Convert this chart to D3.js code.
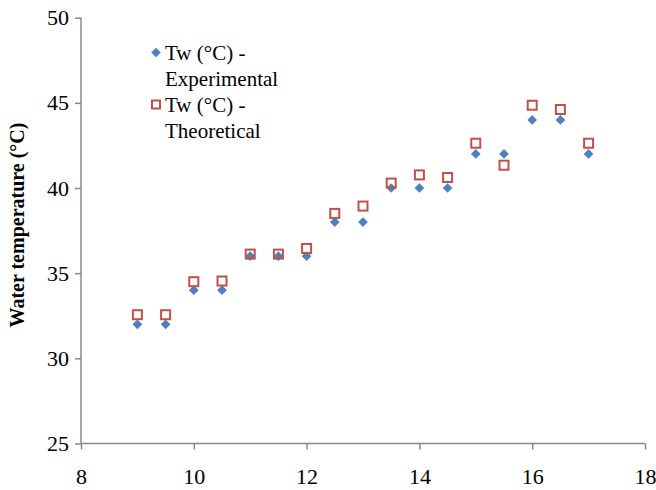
<!DOCTYPE html>
<html>
<head>
<meta charset="utf-8">
<script src="https://cdn.jsdelivr.net/npm/d3@7"></script>
<style>
  body { margin: 0; background: #fff; }
</style>
</head>
<body>
<svg id="chart" width="656" height="490"></svg>
<script>
// flow values (x) and water temperatures
const xValues = [9, 9.5, 10, 10.5, 11, 11.5, 12, 12.5, 13, 13.5, 14, 14.5, 15, 15.5, 16, 16.5, 17];
const experimental = [32, 32, 34, 34, 36, 36, 36, 38, 38, 40, 40, 40, 42, 42, 44, 44, 42];
const theoretical = [32.56, 32.56, 34.5, 34.54, 36.12, 36.12, 36.45, 38.51, 38.94, 40.29, 40.77, 40.62, 42.63, 41.34, 44.86, 44.61, 42.63];
const xTicks = [8, 10, 12, 14, 16, 18];
const yTicks = [25, 30, 35, 40, 45, 50];
const legendLabels = [["Tw (°C) -", "Experimental"], ["Tw (°C) -", "Theoretical"]];

const svg = d3.select("#chart");
const axisColor = "#888888";
const serif = "'Liberation Serif'";

const x = d3.scaleLinear().domain([8, 18]).range([81, 645]);
const y = d3.scaleLinear().domain([25, 50]).range([443.5, 17.7]);

// y axis
const yAxis = svg.append("g")
    .attr("transform", "translate(" + x(8) + ",0)")
    .call(d3.axisLeft(y).tickValues(yTicks).tickSize(6).tickPadding(6));
// x axis
const xAxis = svg.append("g")
    .attr("transform", "translate(0," + y(25) + ")")
    .call(d3.axisBottom(x).tickValues(xTicks).tickSize(6).tickPadding(19));

[xAxis, yAxis].forEach(function(a) {
  a.attr("font-family", serif).attr("font-size", 22);
  a.select(".domain").attr("stroke", axisColor).attr("stroke-width", 1.5);
  a.selectAll(".tick line").attr("stroke", axisColor).attr("stroke-width", 1.5);
  a.selectAll(".tick text")
    .attr("fill", "#000")
    .attr("font-family", serif)
    .attr("font-size", 22);
});
yAxis.select(".domain").attr("d", "M0," + y(50) + "V" + y(25));
xAxis.select(".domain").attr("d", "M" + x(8) + ",0H" + x(18));

// y axis title
svg.append("text")
    .attr("transform", "translate(24,225) rotate(-90)")
    .attr("text-anchor", "middle")
    .attr("font-family", serif)
    .attr("font-size", 20)
    .attr("font-weight", "bold")
    .text("Water temperature (°C)");

const diamond = d3.symbol().type(d3.symbolDiamond2).size(60);

// experimental points
svg.append("g").selectAll("path")
    .data(xValues)
    .enter().append("path")
    .attr("d", diamond)
    .attr("fill", "#4F81BD")
    .attr("transform", function(d, i) {
      return "translate(" + x(d) + "," + y(experimental[i]) + ")";
    });

// theoretical points (hollow squares, drawn on top)
svg.append("g").selectAll("rect")
    .data(xValues)
    .enter().append("rect")
    .attr("x", function(d) { return x(d) - 4.5; })
    .attr("y", function(d, i) { return y(theoretical[i]) - 4.5; })
    .attr("width", 9)
    .attr("height", 9)
    .attr("fill", "none")
    .attr("stroke", "#C0504D")
    .attr("stroke-width", 2);

// legend
const legend = svg.append("g");
legendLabels.forEach(function(lines, i) {
  const cy = 52.5 + i * 52;
  if (i === 0) {
    legend.append("path").attr("d", diamond)
      .attr("fill", "#4F81BD")
      .attr("transform", "translate(156," + cy + ")");
  } else {
    legend.append("rect")
      .attr("x", 152).attr("y", cy - 4).attr("width", 8).attr("height", 8)
      .attr("fill", "none").attr("stroke", "#C0504D").attr("stroke-width", 2);
  }
  lines.forEach(function(t, j) {
    legend.append("text")
      .attr("x", 165)
      .attr("y", cy + j * 26)
      .attr("dy", "0.35em")
      .attr("font-family", serif)
      .attr("font-size", 21)
      .text(t);
  });
});
</script>
</body>
</html>
